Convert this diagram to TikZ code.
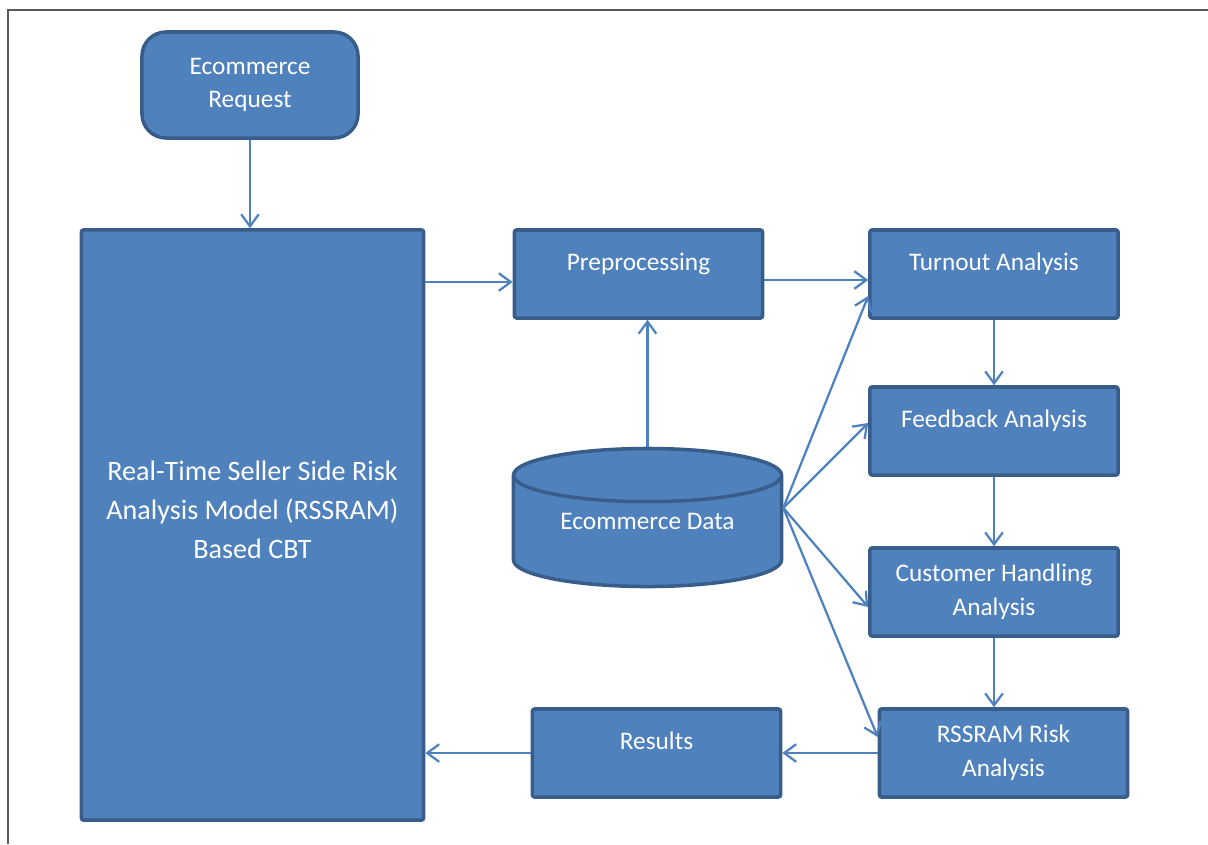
\documentclass[tikz,border=0pt]{standalone}
\usepackage{fontspec}
\setmainfont{Carlito}
\usepackage{tikz}
\usetikzlibrary{shapes.geometric,arrows.meta,positioning}
\definecolor{boxblue}{HTML}{4F81BD}
\definecolor{boxline}{HTML}{385D8A}
\tikzstyle{b1} = [rectangle, rounded corners=0.6cm, draw=boxline, fill=boxblue, line width=2.5pt, text=white, align=center, font=\fontsize{18}{24}\selectfont]
\tikzstyle{b2} = [rectangle, rounded corners=1.5pt, draw=boxline, fill=boxblue, line width=2.5pt, text=white, align=center, minimum width=6.2cm, minimum height=2.2cm, font=\fontsize{18}{24}\selectfont]
\tikzstyle{b3} = [cylinder, shape border rotate=90, aspect=0.29, draw=boxline, fill=boxblue, line width=2.5pt, text=white, minimum width=6.7cm, minimum height=3.45cm, font=\fontsize{18}{24}\selectfont]
\tikzstyle{ln} = [draw=boxblue, line width=1.6pt, ->]

\begin{document}
\begin{tikzpicture}[x=0.025cm, y=-0.025cm, >={Straight Barb[length=3mm,width=4.4mm]}]
\useasboundingbox (0,0) rectangle (1208,844);
\draw[line width=1.2pt, black!65] (8,844)--(8,10)--(1208,10);
\node(Q)[b1, minimum width=5.4cm, minimum height=2.65cm] at (250,85) {Ecommerce\\Request};
\node(M)[b2, minimum width=8.55cm, minimum height=14.75cm, font=\fontsize{20}{27.5}\selectfont] at (252.5,525)
    {Real-Time Seller Side Risk\\Analysis Model (RSSRAM)\\Based CBT\\[-6pt]\mbox{}};
\node(P)[b2] at (638.5,274) {Preprocessing\\[-6pt]\mbox{}};
\node(D)[b3, anchor=shape center] at (647.5,517.5) {\raisebox{0.15cm}[0pt][0pt]{Ecommerce Data}};
\node(T)[b2] at (994,274) {Turnout Analysis\\[-6pt]\mbox{}};
\node(F)[b2] at (994,431) {Feedback Analysis\\[-6pt]\mbox{}};
\node(C)[b2] at (994,592) {Customer Handling\\Analysis};
\node(K)[b2] at (1003.5,753) {RSSRAM Risk\\Analysis};
\node(S)[b2] at (656.5,753) {Results\\[-6pt]\mbox{}};
\coordinate(d) at ([yshift=0.24cm]D.shape center-|D.east);
\draw[ln](Q.south)--(Q.south|-M.north);
\draw[ln]([yshift=-0.2cm]M.east|-P.west)--([yshift=-0.2cm]P.west);
\draw[ln]([yshift=-0.15cm]P.east)--([yshift=-0.15cm]T.west);
\draw[ln](D.north)--(D.north|-P.south);
\draw[ln](T.south)--(F.north);
\draw[ln](F.south)--(C.north);
\draw[ln](C.south)--(C.south|-K.north);
\draw[ln](d)--([yshift=-0.55cm]T.west);
\draw[ln](d)--([yshift=0.2cm]F.west);
\draw[ln](d)--([yshift=-0.375cm]C.west);
\draw[ln](d)--([yshift=0.4cm]K.west);
\draw[ln](K.west)--(S.east);
\draw[ln](S.west)--(S.west-|M.east);
\end{tikzpicture}
\end{document}
